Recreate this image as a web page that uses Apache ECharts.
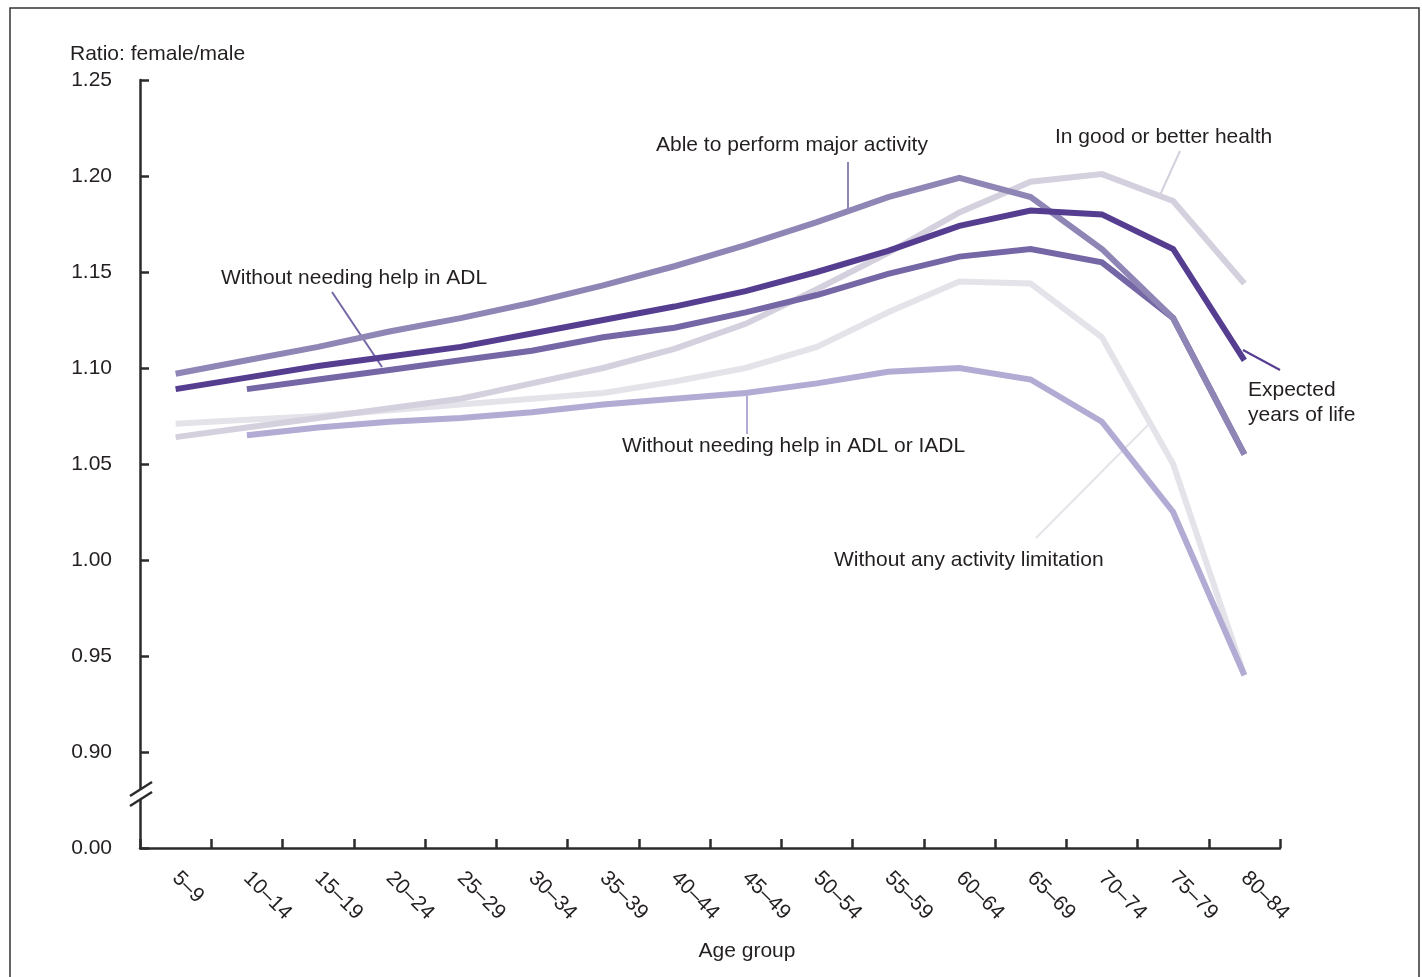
<!DOCTYPE html>
<html>
<head>
<meta charset="utf-8">
<script src="https://cdn.jsdelivr.net/npm/echarts@6/dist/echarts.min.js"></script>
<style>
html,body{margin:0;padding:0;background:#fff;}
#chart{width:1422px;height:977px;}
</style>
</head>
<body>
<div id="chart"></div>
<script>
const categories = ['5–9','10–14','15–19','20–24','25–29','30–34','35–39','40–44','45–49','50–54','55–59','60–64','65–69','70–74','75–79','80–84'];
const yTicks = [0.85, 0.90, 0.95, 1.00, 1.05, 1.10, 1.15, 1.20, 1.25];
const yTickLabels = ['0.00','0.90','0.95','1.00','1.05','1.10','1.15','1.20','1.25'];

const ableMajorActivity = [1.097,1.104,1.111,1.119,1.126,1.134,1.143,1.153,1.164,1.176,1.189,1.199,1.189,1.162,1.126,1.055];
const expectedYears = [1.089,1.095,1.101,1.106,1.111,1.118,1.125,1.132,1.140,1.150,1.161,1.174,1.182,1.180,1.162,1.104];
const noHelpADL = [null,1.089,1.094,1.099,1.104,1.109,1.116,1.121,1.129,1.138,1.149,1.158,1.162,1.155,1.126,1.055];
const goodHealth = [1.064,1.069,1.074,1.079,1.084,1.092,1.100,1.110,1.123,1.141,1.160,1.181,1.197,1.201,1.187,1.144];
const noLimitation = [1.071,1.073,1.075,1.078,1.081,1.084,1.087,1.093,1.100,1.111,1.129,1.145,1.144,1.116,1.050,0.940];
const noHelpADLIADL = [null,1.065,1.069,1.072,1.074,1.077,1.081,1.084,1.087,1.092,1.098,1.100,1.094,1.072,1.025,0.940];

const txt = '#231f20';
const font = 'Liberation Sans, Arial, sans-serif';
const fs = 21;

function line(name, data, color, z){
  return {name, type:'line', data, z, symbol:'none', smooth:false,
    lineStyle:{color, width:6, cap:'butt', join:'miter'}, emphasis:{disabled:true}, silent:true};
}

const chart = echarts.init(document.getElementById('chart'), null, {renderer:'canvas'});
chart.setOption({
  animation:false,
  backgroundColor:'#fff',
  textStyle:{fontFamily:font},
  grid:{left:140, right:142, top:80, bottom:129, containLabel:false},
  xAxis:{
    type:'category', data:categories, boundaryGap:true,
    axisLine:{show:true, lineStyle:{color:'#2b2b2b', width:2.5}},
    axisTick:{show:true, inside:true, length:9, interval:0, alignWithLabel:false, lineStyle:{color:'#2b2b2b', width:2.5}},
    axisLabel:{rotate:-45, margin:27, fontSize:fs, color:txt, fontFamily:font, interval:0, padding:[10,0,0,0]},
    splitLine:{show:false}
  },
  yAxis:{
    type:'value', min:0.85, max:1.25, interval:0.05,
    axisLine:{show:true, lineStyle:{color:'#2b2b2b', width:2.5}},
    axisTick:{show:true, inside:true, length:9, lineStyle:{color:'#2b2b2b', width:2.5}},
    axisLabel:{margin:28, fontSize:fs, color:txt, fontFamily:font,
      formatter:function(v){
        let best=0, d=1e9;
        yTicks.forEach((t,i)=>{ if(Math.abs(t-v)<d){d=Math.abs(t-v);best=i;} });
        return yTickLabels[best];
      }},
    splitLine:{show:false}
  },
  series:[
    line('Without any activity limitation', noLimitation, '#e5e3ea', 2),
    line('In good or better health', goodHealth, '#d4d0de', 3),
    line('Without needing help in ADL or IADL', noHelpADLIADL, '#b2abd3', 4),
    line('Without needing help in ADL', noHelpADL, '#7566a6', 5),
    line('Able to perform major activity', ableMajorActivity, '#8f86b6', 6),
    line('Expected years of life', expectedYears, '#553d90', 7)
  ],
  graphic:[
    {type:'rect', shape:{x:10,y:8,width:1409,height:980}, style:{fill:'none', stroke:'#333', lineWidth:1.5}, z:100},
    {type:'text', left:70, top:44, style:{text:'Ratio: female/male', font:fs+'px '+font, fill:txt}},
    {type:'text', left:656, top:135, style:{text:'Able to perform major activity', font:fs+'px '+font, fill:txt}},
    {type:'line', shape:{x1:848,y1:162,x2:848,y2:209}, style:{stroke:'#8f86b6', lineWidth:2}},
    {type:'text', left:1055, top:127, style:{text:'In good or better health', font:fs+'px '+font, fill:txt}},
    {type:'line', shape:{x1:1180,y1:151,x2:1160,y2:195}, style:{stroke:'#d4d0de', lineWidth:2}},
    {type:'text', left:221, top:268, style:{text:'Without needing help in ADL', font:fs+'px '+font, fill:txt}},
    {type:'line', shape:{x1:332,y1:292,x2:382,y2:367}, style:{stroke:'#7566a6', lineWidth:2}},
    {type:'text', left:1248, top:378, style:{text:'Expected\nyears of life', font:fs+'px '+font, fill:txt, lineHeight:25}},
    {type:'line', shape:{x1:1243,y1:350,x2:1280,y2:370}, style:{stroke:'#553d90', lineWidth:2}},
    {type:'text', left:622, top:436, style:{text:'Without needing help in ADL or IADL', font:fs+'px '+font, fill:txt}},
    {type:'line', shape:{x1:747,y1:396,x2:747,y2:434}, style:{stroke:'#b2abd3', lineWidth:2}},
    {type:'text', left:834, top:550, style:{text:'Without any activity limitation', font:fs+'px '+font, fill:txt}},
    {type:'line', shape:{x1:1148,y1:425,x2:1036,y2:538}, style:{stroke:'#e5e3ea', lineWidth:2}},
    {type:'text', x:747, y:951, style:{text:'Age group', font:fs+'px '+font, fill:txt, align:'center', verticalAlign:'middle'}},
    {type:'polygon', shape:{points:[[130,796],[152,782],[152,792],[130,806]]}, style:{fill:'#fff'}, z:50},
    {type:'line', shape:{x1:130,y1:796,x2:152,y2:782}, style:{stroke:'#2b2b2b', lineWidth:2.5}, z:51},
    {type:'line', shape:{x1:130,y1:806,x2:152,y2:792}, style:{stroke:'#2b2b2b', lineWidth:2.5}, z:51}
  ]
});
</script>
</body>
</html>
